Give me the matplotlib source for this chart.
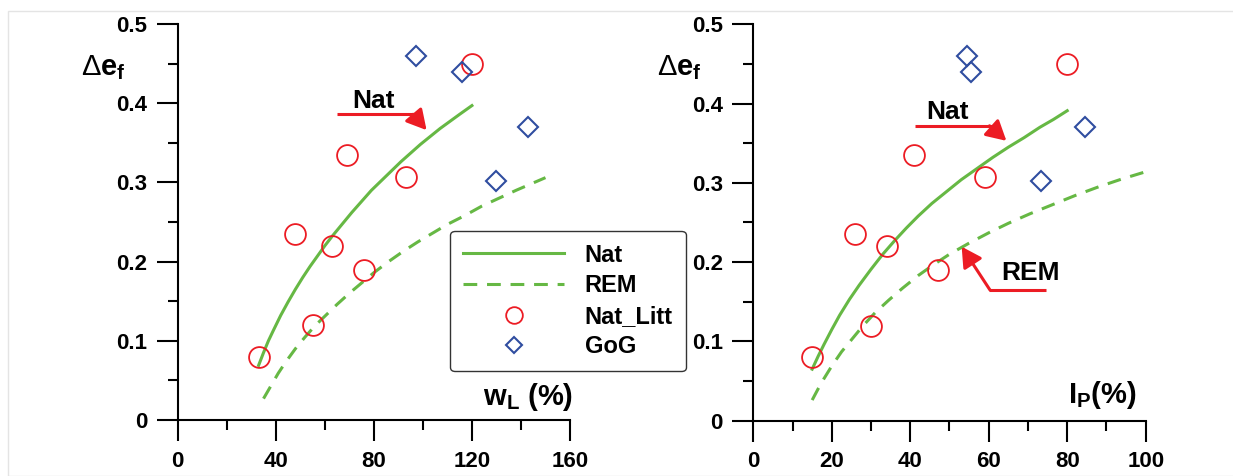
import numpy as np
import matplotlib
matplotlib.use("Agg")
import matplotlib.pyplot as plt
from matplotlib.patches import Rectangle

plt.rcParams['font.family'] = ['Liberation Sans', 'DejaVu Sans']
plt.rcParams['font.weight'] = 'bold'
plt.rcParams['mathtext.fontset'] = 'custom'
plt.rcParams['mathtext.rm'] = 'Liberation Sans:normal'
plt.rcParams['mathtext.bf'] = 'Liberation Sans:bold'

### Data

# left panel: liquid limit wL (%)
wl_nat_litt = [33, 48, 55, 63, 69, 76, 93, 120]
de_nat_litt_wl = [0.080, 0.235, 0.120, 0.220, 0.335, 0.190, 0.307, 0.450]
wl_gog = [97, 116, 130, 143]
de_gog_wl = [0.460, 0.440, 0.302, 0.370]

wl_nat_curve = [33, 35, 37, 39, 42, 45, 48, 51, 54, 57, 60, 63, 67, 71, 75,
                79, 83, 87, 91, 95, 99, 103, 107, 111, 115, 120]
de_nat_curve_wl = [0.069, 0.085, 0.100, 0.113, 0.132, 0.149, 0.165, 0.180,
                   0.194, 0.207, 0.220, 0.232, 0.247, 0.262, 0.276, 0.290,
                   0.302, 0.314, 0.326, 0.337, 0.348, 0.358, 0.368, 0.377,
                   0.386, 0.397]
wl_rem_curve = [35, 38, 41, 44, 48, 52, 56, 60, 65, 70, 75, 80, 86, 92, 98,
                104, 110, 117, 124, 131, 138, 144, 150]
de_rem_curve_wl = [0.027, 0.043, 0.059, 0.073, 0.090, 0.105, 0.119, 0.131,
                   0.146, 0.160, 0.173, 0.186, 0.200, 0.213, 0.225, 0.236,
                   0.247, 0.258, 0.270, 0.280, 0.290, 0.298, 0.306]

# right panel: plasticity index IP (%)
ip_nat_litt = [15, 26, 30, 34, 41, 47, 59, 80]
de_nat_litt_ip = [0.080, 0.235, 0.120, 0.220, 0.335, 0.190, 0.307, 0.450]
ip_gog = [54.4, 55.4, 73.2, 84.5]
de_gog_ip = [0.460, 0.440, 0.302, 0.370]

ip_nat_curve = [15, 16.5, 18, 20, 22, 24.5, 27, 30, 33, 36, 39, 42, 45.5, 49,
                53, 57, 61, 65, 69, 73, 76.5, 80]
de_nat_curve_ip = [0.065, 0.081, 0.096, 0.115, 0.133, 0.153, 0.171, 0.191,
                   0.210, 0.227, 0.243, 0.258, 0.274, 0.288, 0.304, 0.318,
                   0.332, 0.345, 0.357, 0.370, 0.380, 0.391]
ip_rem_curve = [15, 16.5, 18, 20, 22.5, 25, 28, 31, 34.5, 38, 42, 46, 50, 55,
                60, 65, 70.5, 76, 82, 88, 94, 100]
de_rem_curve_ip = [0.026, 0.040, 0.053, 0.069, 0.087, 0.102, 0.120, 0.136,
                   0.152, 0.167, 0.183, 0.197, 0.210, 0.224, 0.237, 0.249,
                   0.261, 0.272, 0.284, 0.295, 0.305, 0.314]

wl_ticks = [0, 40, 80, 120, 160]
ip_ticks = [0, 20, 40, 60, 80, 100]
de_ticks = [0, 0.1, 0.2, 0.3, 0.4, 0.5]
de_tick_labels = ['0', '0.1', '0.2', '0.3', '0.4', '0.5']

### Styles

GREEN = '#66b844'
RED = '#ec1c24'
BLUE = '#2f4da0'
FS = 16
ARROW = '-|>,head_length=0.6,head_width=0.33'

fig = plt.figure(figsize=(12.33, 4.76), dpi=100)

# faint frame of the original picture
fig.patches.append(Rectangle((8 / 1233, 0), 1.0, 1 - 11 / 476, transform=fig.transFigure,
                             fill=False, edgecolor='#e4e4e4', lw=1.0))

ax1 = fig.add_axes([177.7 / 1233, 56 / 476, 392.3 / 1233, 396 / 476])
ax2 = fig.add_axes([753.3 / 1233, 55.3 / 476, 392.4 / 1233, 396.4 / 476])


def style_axes(ax, xticks, xmax, xminor):
  ax.set_xlim(0, xmax)
  ax.set_ylim(0, 0.5)
  for s in ['top', 'right']:
    ax.spines[s].set_visible(False)
  for s in ['left', 'bottom']:
    ax.spines[s].set_linewidth(1.5)
  ax.set_xticks(xticks)
  ax.set_xticklabels([str(t) for t in xticks])
  ax.set_xticks(np.arange(xminor, xmax, 2 * xminor), minor=True)
  ax.set_yticks(de_ticks)
  ax.set_yticklabels(de_tick_labels)
  ax.set_yticks(np.arange(0.05, 0.5, 0.1), minor=True)
  ax.tick_params(which='major', direction='out', length=15, width=1.5,
                 labelsize=FS, pad=7)
  ax.tick_params(which='minor', direction='out', length=7.5, width=1.5)
  ax.text(-0.246, 0.871, r'$\Delta\mathbf{e}_{\mathbf{f}}$', transform=ax.transAxes,
          fontsize=21, ha='left', va='baseline')


def red_arrow(ax, line_x, line_y, start, tip):
  ax.plot(line_x, line_y, color=RED, lw=2.2, solid_capstyle='butt')
  ax.annotate('', xy=tip, xytext=start,
              arrowprops=dict(arrowstyle=ARROW, color=RED, lw=2.2,
                              mutation_scale=20, shrinkA=0, shrinkB=0))


style_axes(ax1, wl_ticks, 160, 20)
style_axes(ax2, ip_ticks, 100, 10)

### Left panel
l_nat, = ax1.plot(wl_nat_curve, de_nat_curve_wl, color=GREEN, lw=2.2, label='Nat')
l_rem, = ax1.plot(wl_rem_curve, de_rem_curve_wl, color=GREEN, lw=2.2,
                  dashes=(4.5, 3.2), label='REM')
m_lit, = ax1.plot(wl_nat_litt, de_nat_litt_wl, 'o', ms=15, mfc='none', mec=RED,
                  mew=1.3, label='Nat_Litt', clip_on=False)
m_gog, = ax1.plot(wl_gog, de_gog_wl, 'D', ms=10, mfc='none', mec=BLUE,
                  mew=1.5, label='GoG', clip_on=False)

ax1.text(1.007, 0.038, r'$\mathbf{w}_{\mathbf{L}}$ (%)', transform=ax1.transAxes,
         fontsize=21, ha='right', va='baseline')

ax1.text(79.9, 0.394, 'Nat', fontsize=19, ha='center', va='baseline')
red_arrow(ax1, [64.8, 96.8], [0.386, 0.386], (96.0, 0.386), (101.5, 0.366))

leg = ax1.legend(handles=[l_nat, l_rem, m_lit, m_gog], loc='upper left',
                 bbox_to_anchor=(0.694, 0.478), borderaxespad=0, fontsize=17,
                 handlelength=4.3, handletextpad=0.85, labelspacing=0.32,
                 borderpad=0.55, markerscale=0.8, fancybox=True, framealpha=1)
leg.get_frame().set_edgecolor('#333333')
leg.get_frame().set_linewidth(1.0)

### Right panel
ax2.plot(ip_nat_curve, de_nat_curve_ip, color=GREEN, lw=2.2)
ax2.plot(ip_rem_curve, de_rem_curve_ip, color=GREEN, lw=2.2, dashes=(4.5, 3.2))
ax2.plot(ip_nat_litt, de_nat_litt_ip, 'o', ms=15, mfc='none', mec=RED, mew=1.3,
         clip_on=False)
ax2.plot(ip_gog, de_gog_ip, 'D', ms=10, mfc='none', mec=BLUE, mew=1.5, clip_on=False)

ax2.text(0.978, 0.045, r'$\mathbf{I}_{\mathbf{P}}$(%)', transform=ax2.transAxes,
         fontsize=21, ha='right', va='baseline')

ax2.text(49.6, 0.381, 'Nat', fontsize=19, ha='center', va='baseline')
red_arrow(ax2, [41.2, 60.75], [0.372, 0.372], (60.2, 0.372), (64.5, 0.353))

ax2.text(70.6, 0.178, 'REM', fontsize=19, ha='center', va='baseline')
red_arrow(ax2, [60.1, 74.6], [0.165, 0.165], (60.3, 0.165), (53.1, 0.2195))

fig.savefig('out.png', dpi=100)
